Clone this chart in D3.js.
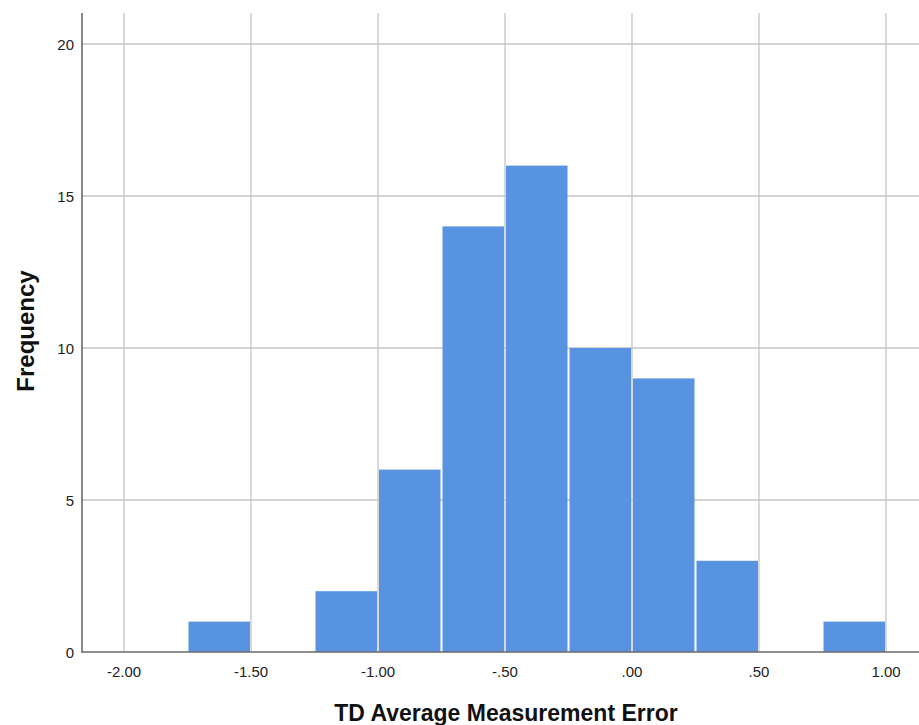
<!DOCTYPE html>
<html><head><meta charset="utf-8">
<script src="https://cdn.jsdelivr.net/npm/d3@7"></script>
<style>body{margin:0;background:#fff}svg{display:block}</style>
</head><body>
<svg id="c" width="919" height="725"></svg>
<script>
const binStarts = [-1.75, -1.5, -1.25, -1.0, -0.75, -0.5, -0.25, 0.0, 0.25, 0.5, 0.75];
const binWidth = 0.25;
const counts = [1, 0, 2, 6, 14, 16, 10, 9, 3, 0, 1];
const xTicks = [-2.0, -1.5, -1.0, -0.5, 0.0, 0.5, 1.0];
const xTickLabels = ["-2.00", "-1.50", "-1.00", "-.50", ".00", ".50", "1.00"];
const yTicks = [0, 5, 10, 15, 20];
const xTitle = "TD Average Measurement Error";
const yTitle = "Frequency";

(function(){
const svg = d3.select("#c");
const pLeft = 82, pTop = 13, pBottom = 652;
const font = "Arial, Liberation Sans, sans-serif";
const x = d3.scaleLinear().domain([-2.0, 1.0]).range([124, 886]);
const y = d3.scaleLinear().domain([0, 20]).range([pBottom, 44]);
const yTop = y.invert(pTop);

// horizontal gridlines
svg.append("g").selectAll("line").data(yTicks.filter(d => d > 0)).join("line")
  .attr("x1", pLeft).attr("x2", 919)
  .attr("y1", d => y(d)).attr("y2", d => y(d))
  .attr("stroke", "#c4c4c4").attr("stroke-width", 1.3);
// vertical gridlines
svg.append("g").selectAll("line").data(xTicks).join("line")
  .attr("x1", d => x(d)).attr("x2", d => x(d))
  .attr("y1", y(yTop)).attr("y2", pBottom)
  .attr("stroke", "#c4c4c4").attr("stroke-width", 1.3);

// bars
const bins = binStarts.map((s, i) => ({s, e: s + binWidth, c: counts[i]})).filter(d => d.c > 0);
svg.append("g").selectAll("rect").data(bins).join("rect")
  .attr("x", d => x(d.s) + 1).attr("width", d => x(d.e) - x(d.s) - 2)
  .attr("y", d => y(d.c)).attr("height", d => y(0) - y(d.c))
  .attr("fill", "#5893e1");

// axes lines
svg.append("line").attr("x1", pLeft).attr("x2", pLeft).attr("y1", pTop).attr("y2", pBottom + 1)
  .attr("stroke", "#6a6a6a").attr("stroke-width", 1.6);
svg.append("line").attr("x1", pLeft).attr("x2", 919).attr("y1", pBottom).attr("y2", pBottom)
  .attr("stroke", "#6a6a6a").attr("stroke-width", 1.6);

// y tick labels
svg.append("g").selectAll("text").data(yTicks).join("text")
  .attr("x", 74).attr("y", d => y(d) + 6).attr("text-anchor", "end")
  .attr("font-family", font).attr("font-size", 15).attr("fill", "#222")
  .text(d => d);
// x tick labels
svg.append("g").selectAll("text").data(xTicks).join("text")
  .attr("x", d => x(d)).attr("y", 677).attr("text-anchor", "middle")
  .attr("font-family", font).attr("font-size", 15).attr("fill", "#222")
  .text((d, i) => xTickLabels[i]);

// titles
svg.append("text").attr("x", 506).attr("y", 721).attr("text-anchor", "middle")
  .attr("font-family", font).attr("font-size", 23).attr("font-weight", "bold")
  .attr("fill", "#111").text(xTitle);
svg.append("text").attr("transform", "translate(34,331) rotate(-90)").attr("text-anchor", "middle")
  .attr("font-family", font).attr("font-size", 24).attr("font-weight", "bold")
  .attr("fill", "#111").text(yTitle);
})();
</script>
</body></html>
